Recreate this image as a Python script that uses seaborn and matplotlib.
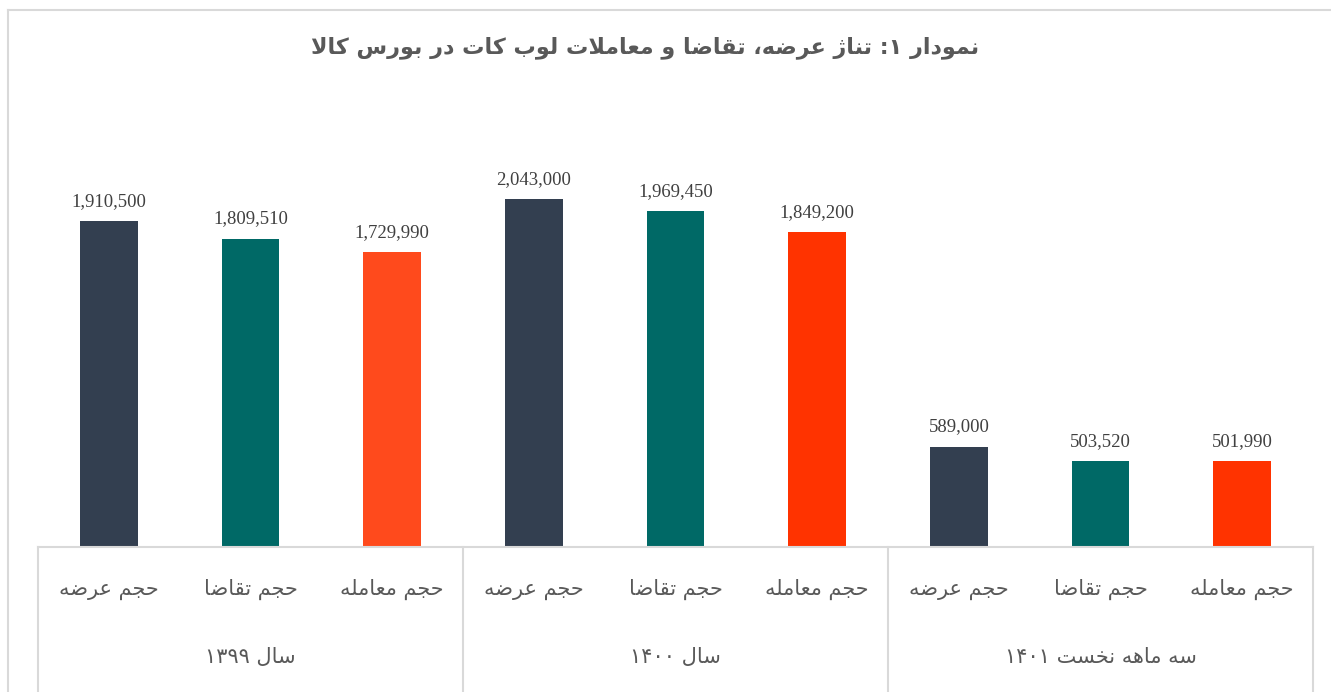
import pandas as pd
import matplotlib
matplotlib.use("Agg")
import matplotlib.pyplot as plt
import seaborn as sns

# Data
groups = ['سال ۱۳۹۹', 'سال ۱۴۰۰', 'سه ماهه نخست ۱۴۰۱']
measures = ['حجم عرضه', 'حجم تقاضا', 'حجم معامله']
supply = [1910500, 2043000, 589000]
demand = [1809510, 1969450, 503520]
traded = [1729990, 1849200, 501990]
title = 'نمودار ۱: تناژ عرضه، تقاضا و معاملات لوب کات در بورس کالا'

measure_colors = ['#333F50', '#006966', '#FF3300']
first_traded_color = '#FF4A1C'

# Minimal Persian shaping (matplotlib does not shape Arabic script)
FORMS = {
    'ا': ('\uFE8D', '\uFE8E', None, None),
    'ب': ('\uFE8F', '\uFE90', '\uFE91', '\uFE92'),
    'ت': ('\uFE95', '\uFE96', '\uFE97', '\uFE98'),
    'ج': ('\uFE9D', '\uFE9E', '\uFE9F', '\uFEA0'),
    'ح': ('\uFEA1', '\uFEA2', '\uFEA3', '\uFEA4'),
    'خ': ('\uFEA5', '\uFEA6', '\uFEA7', '\uFEA8'),
    'د': ('\uFEA9', '\uFEAA', None, None),
    'ر': ('\uFEAD', '\uFEAE', None, None),
    'ژ': ('\uFB8A', '\uFB8B', None, None),
    'س': ('\uFEB1', '\uFEB2', '\uFEB3', '\uFEB4'),
    'ض': ('\uFEBD', '\uFEBE', '\uFEBF', '\uFEC0'),
    'ع': ('\uFEC9', '\uFECA', '\uFECB', '\uFECC'),
    'ق': ('\uFED5', '\uFED6', '\uFED7', '\uFED8'),
    'ک': ('\uFB8E', '\uFB8F', '\uFB90', '\uFB91'),
    'ل': ('\uFEDD', '\uFEDE', '\uFEDF', '\uFEE0'),
    'م': ('\uFEE1', '\uFEE2', '\uFEE3', '\uFEE4'),
    'ن': ('\uFEE5', '\uFEE6', '\uFEE7', '\uFEE8'),
    'ه': ('\uFEE9', '\uFEEA', '\uFEEB', '\uFEEC'),
    'و': ('\uFEED', '\uFEEE', None, None),
}
DIGITS = set('۰۱۲۳۴۵۶۷۸۹0123456789')


def dual(c):
    return c in FORMS and FORMS[c][2] is not None


def fa(text):
    out = []
    i = 0
    while i < len(text):
        c = text[i]
        if c not in FORMS:
            out.append(c)
            i += 1
            continue
        prev_join = i > 0 and dual(text[i - 1])
        nxt = text[i + 1] if i + 1 < len(text) else ''
        if c == 'ل' and nxt == 'ا':
            out.append('\uFEFC' if prev_join else '\uFEFB')
            i += 2
            continue
        next_join = dual(c) and nxt in FORMS
        iso, fin, ini, med = FORMS[c]
        if prev_join and next_join:
            out.append(med)
        elif prev_join:
            out.append(fin)
        elif next_join:
            out.append(ini)
        else:
            out.append(iso)
        i += 1
    # visual order: reverse, keep digit runs left-to-right
    runs = []
    for ch in out:
        isd = ch in DIGITS
        if runs and runs[-1][0] == isd:
            runs[-1][1].append(ch)
        else:
            runs.append([isd, [ch]])
    vis = ''
    for isd, chars in reversed(runs):
        vis += ''.join(chars) if isd else ''.join(reversed(chars))
    return vis


# Long table for seaborn
rows = []
for g in range(len(groups)):
    for m, vals in enumerate([supply, demand, traded]):
        rows.append({'pos': g * 3 + m, 'group': groups[g], 'measure': measures[m], 'value': vals[g]})
df = pd.DataFrame(rows)
colors = []
for g in range(len(groups)):
    for m in range(3):
        colors.append(first_traded_color if (g == 0 and m == 2) else measure_colors[m])

W, H = 1331, 692
fig = plt.figure(figsize=(W / 100, H / 100), dpi=100)
ax = fig.add_axes([38 / W, 1 - 547 / H, (1313 - 38) / W, (547 - 121) / H])

sns.barplot(data=df, x='pos', y='value', hue='pos', palette=colors, width=0.405,
            saturation=1, legend=False, ax=ax)

ax.set_ylim(0, 2500000)
ax.set_xlim(-0.5, 8.5)
for c in ax.containers:
    ax.bar_label(c, fmt='{:,.0f}', padding=8, fontsize=13.5, color='#404040',
                 family=['Liberation Serif', 'DejaVu Sans'])

for s in ['top', 'left', 'right']:
    ax.spines[s].set_visible(False)
ax.spines['bottom'].set_color('#D9D9D9')
ax.spines['bottom'].set_linewidth(1.5)
ax.set_xticks([])
ax.set_yticks([])
ax.set_xlabel('')
ax.set_ylabel('')

# Multi-level category axis
trans = ax.get_xaxis_transform()
for p, row in df.iterrows():
    ax.text(row['pos'], -0.10, fa(row['measure']), transform=trans, ha='center', va='center',
            fontsize=15, color='#595959', family='DejaVu Sans')
for g, name in enumerate(groups):
    ax.text(g * 3 + 1, -0.258, fa(name), transform=trans, ha='center', va='center',
            fontsize=15, color='#595959', family='DejaVu Sans')
for xs in [-0.5, 2.5, 5.5, 8.5]:
    ax.plot([xs, xs], [0, -0.4], transform=trans, color='#D9D9D9', lw=1.5, clip_on=False)

# Chart-area border
fig.add_artist(plt.Line2D([8 / W, 1], [1 - 10 / H, 1 - 10 / H], color='#D9D9D9', lw=1.5))
fig.add_artist(plt.Line2D([8 / W, 8 / W], [0, 1 - 10 / H], color='#D9D9D9', lw=1.5))

fig.text(645 / W, 1 - 48 / H, fa(title), ha='center', va='center', fontsize=16,
         fontweight='bold', color='#595959', family='DejaVu Sans')

fig.savefig('out.png', dpi=100)
